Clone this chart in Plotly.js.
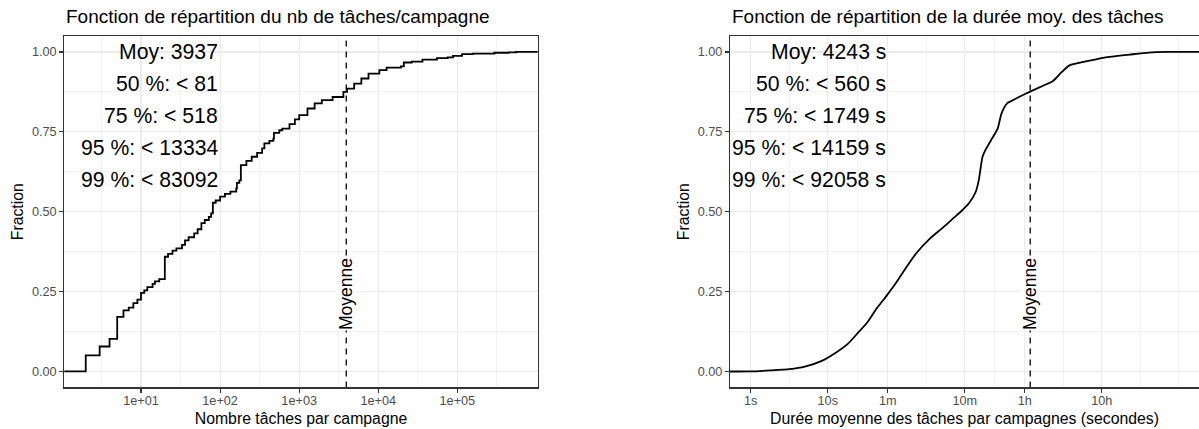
<!DOCTYPE html>
<html>
<head>
<meta charset="utf-8">
<script src="https://cdn.plot.ly/plotly-3.0.1.min.js"></script>
<style>html,body{margin:0;padding:0;background:#fff;}#chart{width:1199px;height:429px;}</style>
</head>
<body>
<div id="chart"></div>
<script>
// ---- Left panel: ECDF of number of tasks per campaign ----
const tasksX = [1, 2, 3, 4, 5, 6, 7, 8, 9, 10, 11, 12, 14, 15, 17, 20, 22, 25, 28, 33, 36, 40, 47, 52, 58, 64, 72, 77, 81, 88, 100, 115, 135, 160, 163, 175, 183, 215, 251, 294, 340, 363, 420, 471, 480, 560, 611, 754, 882, 1000, 1273, 1567, 1932, 2647, 3623, 4027, 4960, 6110, 7530, 10320, 12730, 19340, 21040, 26500, 36200, 55100, 75300, 88100, 114600, 156700, 294000, 447000, 555000, 5000000];
const tasksY = [0, 0.050, 0.078, 0.102, 0.171, 0.191, 0.200, 0.214, 0.225, 0.246, 0.254, 0.264, 0.274, 0.282, 0.289, 0.359, 0.368, 0.378, 0.385, 0.396, 0.410, 0.420, 0.432, 0.445, 0.464, 0.474, 0.484, 0.495, 0.528, 0.535, 0.547, 0.556, 0.563, 0.573, 0.590, 0.598, 0.646, 0.659, 0.672, 0.684, 0.698, 0.714, 0.722, 0.729, 0.747, 0.755, 0.760, 0.774, 0.789, 0.802, 0.823, 0.839, 0.849, 0.859, 0.875, 0.885, 0.901, 0.917, 0.932, 0.943, 0.951, 0.955, 0.967, 0.970, 0.976, 0.981, 0.983, 0.988, 0.993, 0.995, 0.9975, 0.999, 1.0, 1.0];
const tasksMean = 3937;
const tasksStats = ["Moy: 3937", "50 %: < 81", "75 %: < 518", "95 %: < 13334", "99 %: < 83092"];
const tasksTickVals = [10, 100, 1000, 10000, 100000];
const tasksTickText = ["1e+01", "1e+02", "1e+03", "1e+04", "1e+05"];

// ---- Right panel: ECDF of mean task duration (seconds) ----
const durX = [0.3, 1, 1.82, 3.2, 5.04, 8.37, 12.4, 18.5, 24.5, 32.5, 43.1, 57.2, 75.9, 100.7, 141, 210, 312, 438, 548, 688, 834, 913, 1022, 1143, 1355, 1606, 1798, 2130, 2672, 3750, 5570, 8280, 10380, 13750, 24200, 42600, 83900, 147600, 260000, 400000, 5000000];
const durY = [0, 0, 0.003, 0.007, 0.015, 0.033, 0.057, 0.088, 0.12, 0.153, 0.197, 0.235, 0.275, 0.32, 0.37, 0.415, 0.45, 0.482, 0.503, 0.528, 0.5625, 0.599, 0.672, 0.698, 0.729, 0.760, 0.807, 0.839, 0.852, 0.870, 0.889, 0.908, 0.932, 0.958, 0.972, 0.984, 0.992, 0.998, 1.0, 1.0, 1.0];
const durMean = 4243;
const durStats = ["Moy: 4243 s", "50 %: < 560 s", "75 %: < 1749 s", "95 %: < 14159 s", "99 %: < 92058 s"];
const durTickVals = [1, 10, 60, 600, 3600, 36000];
const durTickText = ["1s", "10s", "1m", "10m", "1h", "10h"];

const statRows = [1.0, 0.9, 0.8, 0.7, 0.6];
const fracTickVals = [0, 0.25, 0.5, 0.75, 1];
const fracTickText = ["0.00", "0.25", "0.50", "0.75", "1.00"];

// ---- minor grid: midpoints (in log space) between consecutive breaks, extended one step ----
function midLog(vals) {
  const l = vals.map(v => Math.log10(v));
  const out = [];
  for (let i = 0; i < l.length - 1; i++) out.push(Math.pow(10, (l[i] + l[i + 1]) / 2));
  return out;
}
const tasksMinor = midLog([1].concat(tasksTickVals, [1000000]));
const durExt = [0.1].concat(durTickVals, [360000]);
const durMinor = midLog(durExt).concat([360000]);

const W = 1199, H = 429;
const FONT = "Liberation Sans, Arial, Helvetica, sans-serif";
const GRID = "#EBEBEB", FRAME = "#333333", TICKC = "#4D4D4D";

const leftDom = [64.3 / W, 537.7 / W];
const rightDom = [730 / W, 1];
const yDom = [(H - 387.4) / H, (H - 36) / H];

const lineStyle = {color: "#000", width: 1.8};
const dashStyle = {color: "#000", width: 1.3, dash: "6px,5px"};

const traces = [
  {x: tasksX, y: tasksY, xaxis: "x", yaxis: "y", mode: "lines", line: Object.assign({shape: "hv"}, lineStyle), hoverinfo: "skip"},
  {x: [tasksMean, tasksMean], y: [-0.05, 1.05], xaxis: "x", yaxis: "y", mode: "lines", line: dashStyle, hoverinfo: "skip"},
  {x: durX, y: durY, xaxis: "x2", yaxis: "y2", mode: "lines", line: Object.assign({shape: "spline", smoothing: 0.6}, lineStyle), hoverinfo: "skip"},
  {x: [durMean, durMean], y: [-0.05, 1.05], xaxis: "x2", yaxis: "y2", mode: "lines", line: dashStyle, hoverinfo: "skip"}
];

function xAxis(dom, range, tv, tt, minorVals, title, anchor) {
  return {
    domain: dom, type: "log", range: range, anchor: anchor,
    tickmode: "array", tickvals: tv, ticktext: tt,
    ticks: "outside", ticklen: 4, tickwidth: 1.1, tickcolor: FRAME, ticklabelstandoff: -3,
    showline: true, linecolor: FRAME, linewidth: 1.1, mirror: true,
    showgrid: true, gridcolor: GRID, gridwidth: 1.1, zeroline: false,
    minor: {tickmode: "array", tickvals: minorVals, showgrid: true, gridcolor: GRID, gridwidth: 0.6, ticks: ""},
    tickfont: {family: FONT, size: 12.7, color: TICKC},
    title: {text: title, font: {family: FONT, size: 15.8, color: "#000"}, standoff: 6}
  };
}
function yAxis(anchor, mirror) {
  return {
    domain: yDom, range: [-0.05, 1.05], anchor: anchor,
    tickmode: "array", tickvals: fracTickVals, ticktext: fracTickText,
    ticks: "outside", ticklen: 4, tickwidth: 1.1, tickcolor: FRAME,
    showline: true, linecolor: FRAME, linewidth: 1.1, mirror: mirror,
    showgrid: true, gridcolor: GRID, gridwidth: 1.1, zeroline: false,
    minor: {tickmode: "array", tickvals: [0.125, 0.375, 0.625, 0.875], showgrid: true, gridcolor: GRID, gridwidth: 0.6, ticks: ""},
    tickfont: {family: FONT, size: 12.7, color: TICKC},
    title: {text: "Fraction", font: {family: FONT, size: 15.8, color: "#000"}, standoff: 4}
  };
}

const annotations = [];
function addStats(lines, xval, xref, yref) {
  lines.forEach((t, i) => annotations.push({
    xref: xref, yref: yref, x: Math.log10(xval), y: statRows[i], text: t,
    xanchor: "right", yanchor: "middle", showarrow: false,
    font: {family: FONT, size: 21.2, color: "#000"}
  }));
}
addStats(tasksStats, 100, "x", "y");
addStats(durStats, 60, "x2", "y2");
function addMean(xval, xref, yref) {
  annotations.push({
    xref: xref, yref: yref, x: Math.log10(xval), y: 0.243, text: "Moyenne", textangle: -90,
    showarrow: false, xanchor: "center", yanchor: "middle", bgcolor: "#fff", borderpad: 0,
    font: {family: FONT, size: 17.5, color: "#000"}
  });
}
addMean(tasksMean, "x", "y");
addMean(durMean, "x2", "y2");
annotations.push({xref: "paper", yref: "paper", x: leftDom[0], y: (H - 17) / H, xanchor: "left", yanchor: "middle", showarrow: false,
  text: "Fonction de répartition du nb de tâches/campagne", font: {family: FONT, size: 19, color: "#000"}});
annotations.push({xref: "paper", yref: "paper", x: rightDom[0], y: (H - 17) / H, xanchor: "left", yanchor: "middle", showarrow: false,
  text: "Fonction de répartition de la durée moy. des tâches", font: {family: FONT, size: 19, color: "#000"}});

const layout = {
  width: W, height: H, margin: {l: 0, r: 0, t: 0, b: 0},
  paper_bgcolor: "#fff", plot_bgcolor: "#fff", showlegend: false,
  font: {family: FONT},
  xaxis: xAxis(leftDom, [0.03, 6.016], tasksTickVals, tasksTickText, tasksMinor, "Nombre tâches par campagne", "y"),
  yaxis: yAxis("x", true),
  xaxis2: xAxis(rightDom, [-0.269, 5.819], durTickVals, durTickText, durMinor, "Durée moyenne des tâches par campagnes (secondes)", "y2"),
  yaxis2: yAxis("x2", false),
  annotations: annotations
};

Plotly.newPlot("chart", traces, layout, {staticPlot: true, displayModeBar: false});
</script>
</body>
</html>
